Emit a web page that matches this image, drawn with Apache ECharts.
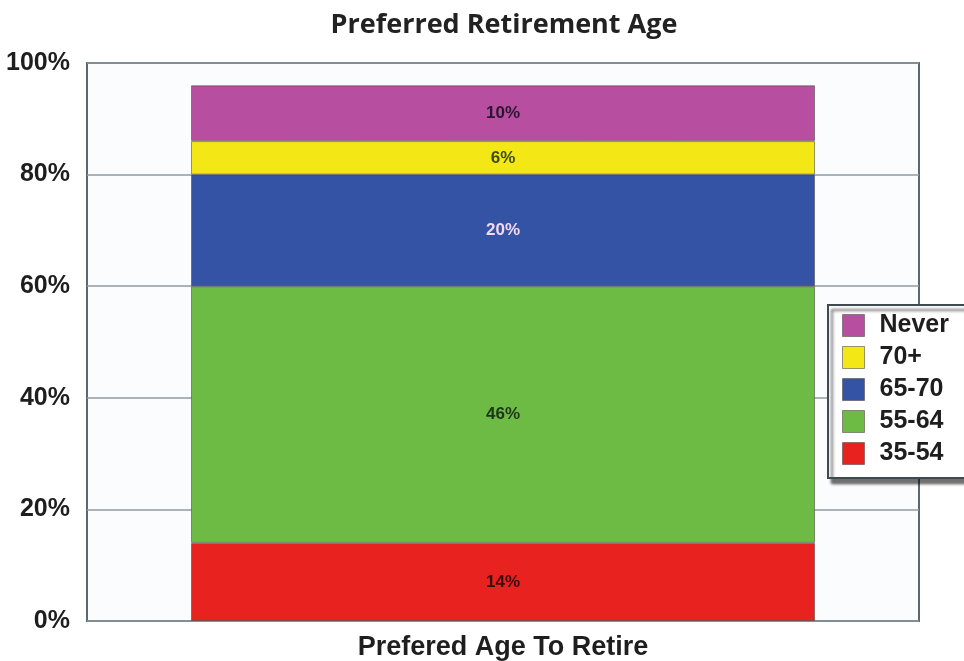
<!DOCTYPE html>
<html>
<head>
<meta charset="utf-8">
<title>Preferred Retirement Age</title>
<script src="https://cdn.jsdelivr.net/npm/echarts@6/dist/echarts.min.js"></script>
<style>
  html, body { margin: 0; padding: 0; background: #ffffff; }
  #chart { width: 964px; height: 661px; }
</style>
</head>
<body>
<div id="chart"></div>
<script>
// Survey results: share of respondents by preferred retirement age band
const categories = ['Prefered Age To Retire'];
const seriesNames = ['35-54', '55-64', '65-70', '70+', 'Never'];
const shares35to54 = [14];
const shares55to64 = [46];
const shares65to70 = [20];
const shares70plus = [6];
const sharesNever = [10];
const yTicks = { min: 0, max: 100, step: 20 };

const seriesValues = [shares35to54, shares55to64, shares65to70, shares70plus, sharesNever];
const fills = ['#e8221f', '#6dbb45', '#3453a5', '#f3e816', '#b84e9f'];
const labelInk = ['#3a0c0c', '#1c3518', '#f2d9ef', '#3d4a12', '#2a1630'];

const chart = echarts.init(document.getElementById('chart'), null, { renderer: 'canvas' });

const series = seriesNames.map((name, i) => ({
  name: name,
  type: 'bar',
  stack: 'total',
  barWidth: '75%',
  data: seriesValues[i],
  itemStyle: {
    color: fills[i],
    borderColor: 'rgba(70,70,60,0.55)',
    borderWidth: 1
  },
  label: {
    show: true,
    position: 'inside',
    formatter: '{c}%',
    fontFamily: 'Liberation Sans',
    fontWeight: 'bold',
    fontSize: 17,
    color: labelInk[i]
  }
}));

chart.setOption({
  backgroundColor: '#ffffff',
  animation: false,
  title: {
    text: 'Preferred Retirement Age',
    left: 499,
    top: 7,
    textAlign: 'center',
    textStyle: {
      fontFamily: 'Open Sans',
      fontWeight: 'bold',
      fontSize: 27,
      color: '#222222'
    }
  },
  grid: {
    left: 87,
    top: 63,
    right: 45,
    bottom: 39,
    show: true,
    backgroundColor: '#fbfcfe',
    borderColor: '#5c686e',
    borderWidth: 2
  },
  legend: {
    data: seriesNames.slice().reverse(),
    orient: 'vertical',
    left: 828,
    top: 305,
    padding: [8, 16, 12, 14],
    itemWidth: 22,
    itemHeight: 22,
    itemGap: 7,
    icon: 'rect',
    backgroundColor: '#ffffff',
    borderColor: '#3f4a50',
    borderWidth: 2,
    shadowColor: 'rgba(0,0,0,0.55)',
    shadowBlur: 3,
    shadowOffsetX: 4,
    shadowOffsetY: 5,
    itemStyle: { borderColor: 'rgba(90,80,80,0.6)', borderWidth: 1 },
    textStyle: {
      fontFamily: 'Liberation Sans',
      fontWeight: 'bold',
      fontSize: 25,
      lineHeight: 22,
      color: '#1e1e1e',
      padding: [0, 0, 0, 10]
    }
  },
  xAxis: {
    type: 'category',
    data: categories,
    axisLine: { show: false },
    axisTick: { show: false },
    axisLabel: {
      margin: 13,
      fontFamily: 'Liberation Sans',
      fontWeight: 'bold',
      fontSize: 27,
      color: '#1e1e1e'
    }
  },
  yAxis: {
    type: 'value',
    min: yTicks.min,
    max: yTicks.max,
    interval: yTicks.step,
    axisLine: { show: false },
    axisTick: { show: false },
    splitLine: { show: true, lineStyle: { color: '#8e9ca2', width: 1.5 } },
    axisLabel: {
      formatter: '{value}%',
      margin: 17,
      fontFamily: 'Liberation Sans',
      fontWeight: 'bold',
      fontSize: 25,
      color: '#1e1e1e'
    }
  },
  series: series
});
</script>
</body>
</html>
